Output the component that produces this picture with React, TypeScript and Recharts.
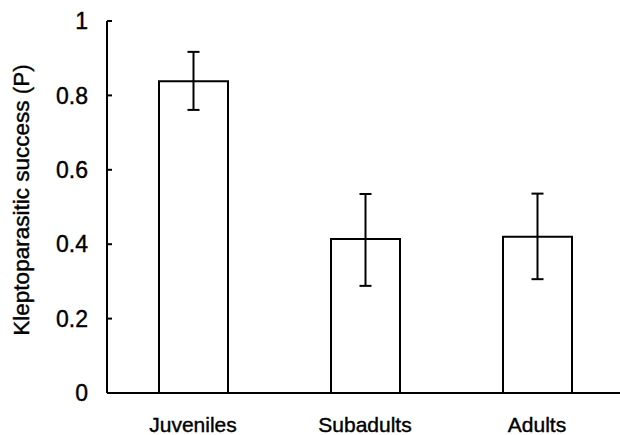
import { Bar, BarChart, ErrorBar, XAxis, YAxis } from "recharts";

const categories = ["Juveniles", "Subadults", "Adults"];
const success = [0.838, 0.414, 0.42];
const errLow = [0.077, 0.126, 0.114];
const errHigh = [0.079, 0.121, 0.116];
const yTicks = [0, 0.2, 0.4, 0.6, 0.8, 1];

const data = categories.map((name, i) => ({
  name,
  success: success[i],
  err: [errLow[i], errHigh[i]],
}));

const font = "'Liberation Sans', Arial, sans-serif";

const YLabel = (props: any) => {
  const vb = props.viewBox || {};
  const cx = vb.x + 21;
  const cy = vb.y + vb.height / 2 - 7;
  return (
    <text
      x={cx}
      y={cy}
      transform={`rotate(-90 ${cx} ${cy})`}
      textAnchor="middle"
      dominantBaseline="central"
      fontSize={22.5}
      fontFamily={font}
      fill="#000"
      stroke="#000"
      strokeWidth={0.4}
    >
      Kleptoparasitic success (P)
    </text>
  );
};

const App = () => {
  return (
    <div
      style={{
        position: "absolute",
        left: 0,
        top: 0,
        width: 620,
        height: 435,
        overflow: "hidden",
        background: "#fff",
      }}
    >
      <BarChart
        width={623}
        height={435}
        data={data}
        margin={{ top: 21, right: 0, left: 0, bottom: 0 }}
        barSize={69}
      >
        <XAxis
          dataKey="name"
          height={42}
          axisLine={{ stroke: "#000", strokeWidth: 2 }}
          tickLine={false}
          tickSize={0}
          tickMargin={24}
          tick={{ fill: "#000", stroke: "#000", strokeWidth: 0.4, fontSize: 21, fontFamily: font }}
        />
        <YAxis
          width={107}
          domain={[0, 1]}
          ticks={yTicks}
          interval={0}
          axisLine={{ stroke: "#000", strokeWidth: 2 }}
          tickLine={{ stroke: "#000", strokeWidth: 2 }}
          tickSize={-5}
          tickMargin={24}
          tick={{ fill: "#000", stroke: "#000", strokeWidth: 0.4, fontSize: 23, fontFamily: font }}
          label={<YLabel />}
        />
        <Bar
          dataKey="success"
          fill="#fff"
          stroke="#000"
          strokeWidth={2}
          isAnimationActive={false}
        >
          <ErrorBar
            dataKey="err"
            width={6}
            stroke="#000"
            strokeWidth={2}
            isAnimationActive={false}
          />
        </Bar>
      </BarChart>
    </div>
  );
};

export default App;
